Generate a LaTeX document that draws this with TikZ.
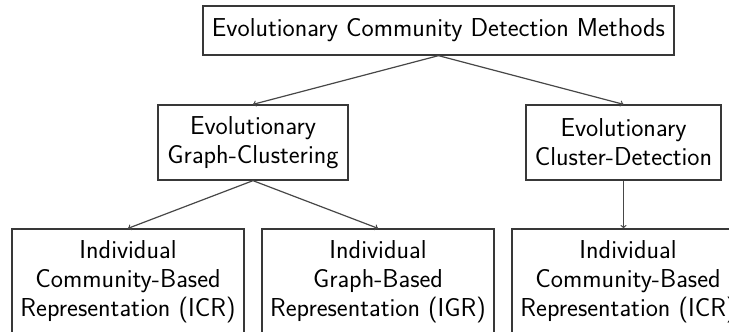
\documentclass[tikz,border=0pt]{standalone}
\usepackage{fontspec}
\begin{document}
\begin{tikzpicture}[x=1bp,y=1bp,
  box/.style={draw=black!78,line width=1.3bp,fill=white,align=center,inner sep=0pt,
    font=\sffamily\fontsize{26}{29}\selectfont},
  conn/.style={draw=black!72,line width=1.2bp,->,>=to}]
\useasboundingbox (0,0) rectangle (729,-331);
\node[box,minimum width=471bp,minimum height=49bp] (top) at (438.5,-30.5) {Evolutionary Community Detection Methods};
\node[box,minimum width=190bp,minimum height=75bp] (ml) at (253,-142.5) {Evolutionary\\Graph-Clustering};
\node[box,minimum width=195bp,minimum height=75bp] (mr) at (623.5,-142.5) {Evolutionary\\Cluster-Detection};
\node[box,minimum width=232bp,minimum height=105bp] (bl) at (128,-281.5) {Individual\\Community-Based\\Representation (ICR)};
\node[box,minimum width=232bp,minimum height=105bp] (bm) at (378,-281.5) {Individual\\Graph-Based\\Representation (IGR)};
\node[box,minimum width=232bp,minimum height=105bp] (br) at (628,-281.5) {Individual\\Community-Based\\Representation (ICR)};
\draw[conn] (top.south) -- (ml.north);
\draw[conn] (top.south) -- (mr.north);
\draw[conn] (ml.south) -- (bl.north);
\draw[conn] (ml.south) -- (bm.north);
\draw[conn] (mr.south) -- (mr.south |- br.north);
\end{tikzpicture}
\end{document}
